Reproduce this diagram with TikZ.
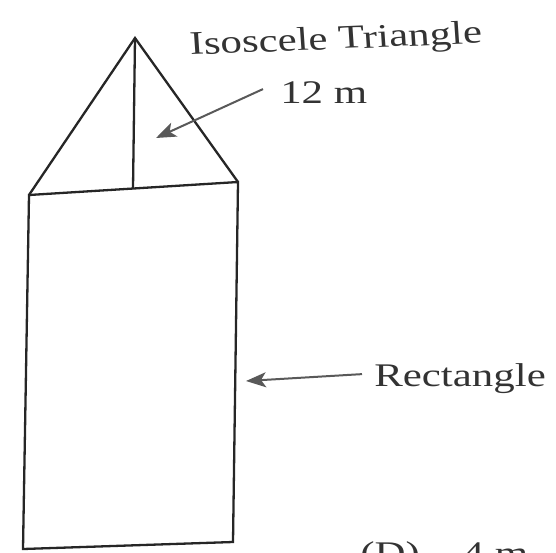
\documentclass[tikz,border=0pt]{standalone}
\usepackage{fontspec}
\setmainfont{Liberation Serif}
\usetikzlibrary{arrows.meta}
\tikzset{
    % 图形边线
    edgeline/.style={
        line width=2.3pt,
        black!85
    },
    % 灰色箭头
    grayarrow/.style={
        line width=2pt,
        black!65,
        ->,
        >={Stealth[length=20pt, width=15pt, inset=5pt]}
    },
    labeltext/.style={
        inner sep=0pt,
        anchor=base west,
        xscale=1.3,
        black!80,
        font=\fontsize{33}{36}\selectfont
    }
}
\begin{document}
\begin{tikzpicture}[x=1pt,y=-1pt]
	\useasboundingbox (0,0) rectangle (556,552);
	\clip (0,0) rectangle (556,552);
	
	\path
	(135,38) coordinate (apex)
	(29,195) coordinate (tl)
	(238,182) coordinate (tr)
	(233,542) coordinate (br)
	(23,549) coordinate (bl)
	(133,188.5) coordinate (foot)
	(156,138) coordinate (tritip)
	(246,381) coordinate (recttip);
	
	% 三角形
	\draw[edgeline] (tl) -- (apex) -- (tr);
	\draw[edgeline] (apex) -- (foot);
	% 矩形
	\draw[edgeline] (tl) -- (tr) -- (br) -- (bl) -- cycle;
	
	% 文字标注
	\node[labeltext,rotate=3] (isotri) at (190,55) {Isoscele Triangle};
	\node[labeltext] (twelve) at (280,103) {12 m};
	\node[labeltext] (rectlbl) at (374,386) {Rectangle};
	\node[labeltext] (optd) at (360,564) {(D)\quad 4 m};
	
	% 箭头
	\draw[grayarrow] ([xshift=-17pt,yshift=3pt]twelve.west) -- (tritip);
	\draw[grayarrow] ([xshift=-12pt,yshift=4pt]rectlbl.west) -- (recttip);
\end{tikzpicture}
\end{document}
